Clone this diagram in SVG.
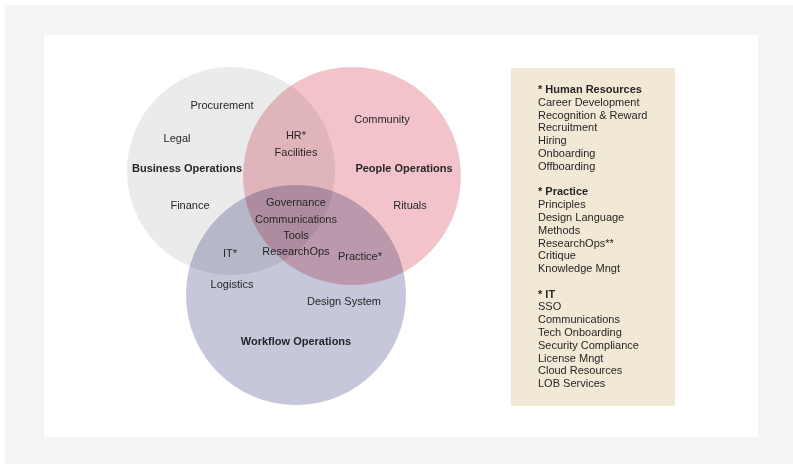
<svg xmlns="http://www.w3.org/2000/svg" width="793" height="464" viewBox="0 0 793 464">
<style>
text{font-family:"Liberation Sans",Arial,sans-serif;font-size:11px;fill:#262626}
.c{text-anchor:middle}
.b{font-weight:bold}
.circ{mix-blend-mode:multiply}
</style>
<rect x="0" y="0" width="793" height="464" fill="#ffffff"/>
<rect x="5" y="5" width="788" height="459" fill="#f4f4f4"/>
<rect x="44" y="35" width="714" height="402" fill="#ffffff"/>
<g id="business-operations">
<circle class="circ" cx="231" cy="171" r="104" fill="#ebebeb"/>
</g>
<g id="people-operations">
<circle class="circ" cx="352" cy="176" r="109" fill="#f3c3cb"/>
</g>
<g id="workflow-operations">
<circle class="circ" cx="296" cy="295" r="110" fill="#c6c7da"/>
</g>
<g id="labels">
<text class="c" x="222" y="109">Procurement</text>
<text class="c" x="177" y="142">Legal</text>
<text class="c b" x="187" y="172">Business Operations</text>
<text class="c" x="190" y="209">Finance</text>
<text class="c" x="296" y="139">HR*</text>
<text class="c" x="296" y="156">Facilities</text>
<text class="c" x="382" y="123">Community</text>
<text class="c b" x="404" y="172">People Operations</text>
<text class="c" x="410" y="209">Rituals</text>
<text class="c" x="296" y="206">Governance</text>
<text class="c" x="296" y="223">Communications</text>
<text class="c" x="296" y="239">Tools</text>
<text class="c" x="296" y="255">ResearchOps</text>
<text class="c" x="230" y="257">IT*</text>
<text class="c" x="360" y="260">Practice*</text>
<text class="c" x="232" y="288">Logistics</text>
<text class="c" x="344" y="305">Design System</text>
<text class="c b" x="296" y="345">Workflow Operations</text>
</g>
<g id="legend">
<rect x="511" y="68" width="164" height="338" fill="#f2e8d6"/>
<text class="b" x="538" y="93">* Human Resources</text>
<text x="538" y="106">Career Development</text>
<text x="538" y="119">Recognition &amp; Reward</text>
<text x="538" y="131">Recruitment</text>
<text x="538" y="144">Hiring</text>
<text x="538" y="157">Onboarding</text>
<text x="538" y="170">Offboarding</text>
<text class="b" x="538" y="195">* Practice</text>
<text x="538" y="208">Principles</text>
<text x="538" y="221">Design Language</text>
<text x="538" y="234">Methods</text>
<text x="538" y="247">ResearchOps**</text>
<text x="538" y="259">Critique</text>
<text x="538" y="272">Knowledge Mngt</text>
<text class="b" x="538" y="298">* IT</text>
<text x="538" y="310">SSO</text>
<text x="538" y="323">Communications</text>
<text x="538" y="336">Tech Onboarding</text>
<text x="538" y="349">Security Compliance</text>
<text x="538" y="362">License Mngt</text>
<text x="538" y="374">Cloud Resources</text>
<text x="538" y="387">LOB Services</text>
</g>
<g id="connectors"/>
</svg>
